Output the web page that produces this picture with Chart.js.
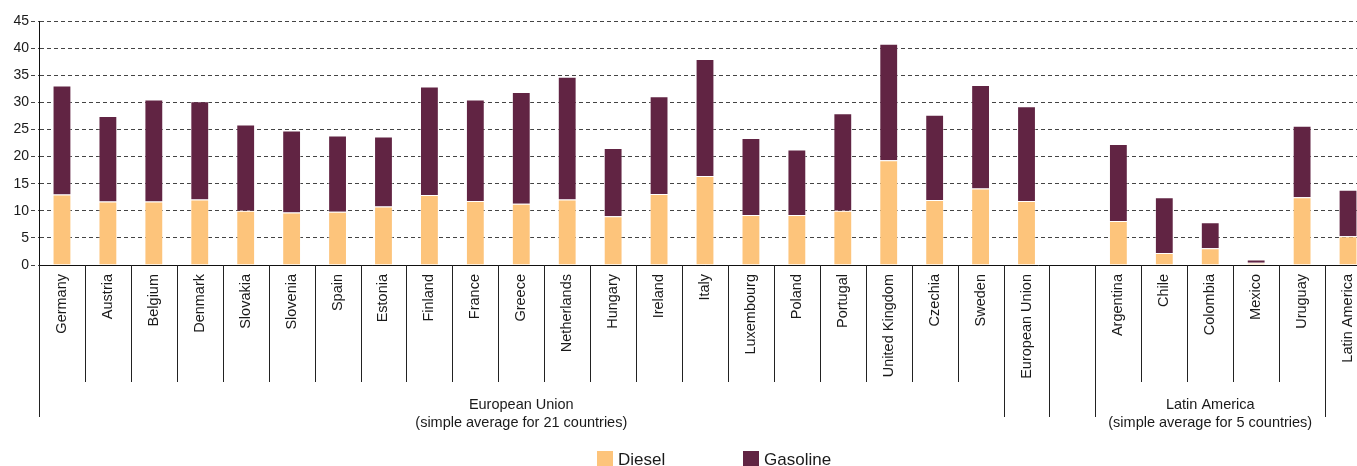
<!DOCTYPE html>
<html>
<head>
<meta charset="utf-8">
<title>Fuel taxes - diesel and gasoline</title>
<script src="https://cdn.jsdelivr.net/npm/chart.js@4.4.1/dist/chart.umd.min.js"></script>
<style>
  html, body { margin: 0; padding: 0; background: #fff; overflow: hidden; }
  #wrap { width: 1371px; height: 466px; }
</style>
</head>
<body>
<div id="wrap"><canvas id="chart" width="1371" height="466"></canvas></div>
<script>
// categories along the x axis ("" = blank gap between the two groups)
var categories = ["Germany","Austria","Belgium","Denmark","Slovakia","Slovenia","Spain","Estonia",
  "Finland","France","Greece","Netherlands","Hungary","Ireland","Italy","Luxembourg","Poland",
  "Portugal","United Kingdom","Czechia","Sweden","European Union","","Argentina","Chile",
  "Colombia","Mexico","Uruguay","Latin America"];

var diesel = [13.0,11.7,11.7,12.1,10.0,9.7,9.8,10.8,12.9,11.8,11.3,12.1,9.0,13.1,16.4,9.2,9.2,
  10.0,19.3,12.0,14.1,11.8,null,8.1,2.2,3.1,0.4,12.5,5.3];
var gasoline = [20.1,15.8,18.8,18.1,15.9,15.1,14.1,12.9,20.0,18.7,20.6,22.6,12.6,18.0,21.6,14.2,12.1,
  18.0,21.5,15.7,19.1,17.5,null,14.2,10.3,4.8,0.6,13.2,8.6];

var yTicks = [0,5,10,15,20,25,30,35,40,45];

// group captions under the category labels
var groupLines = [["European Union","(simple average for 21 countries)"],
                  ["Latin America","(simple average for 5 countries)"]];
var groupFrom = [0, 23];
var groupTo = [20, 27];
// category boundaries whose separator runs down to the group row
var longBounds = [0, 21, 22, 23, 28];

var FONT = "'Liberation Sans', Arial, sans-serif";
var C_DIESEL = "#fdc47b";
var C_GAS = "#612443";

var extras = {
  id: "extras",
  afterDraw: function(chart){
    var ctx = chart.ctx;
    var xs = chart.scales.x;
    var base = chart.chartArea.bottom;
    var step = xs.getPixelForValue(1) - xs.getPixelForValue(0);
    ctx.save();
    ctx.strokeStyle = "#222";
    ctx.lineWidth = 1;
    // separators between the category cells
    for (var k = 0; k <= categories.length; k++) {
      var x = Math.round(xs.getPixelForValue(0) - step/2 + k*step) + 0.5;
      var bottom = longBounds.indexOf(k) >= 0 ? 417 : 382;
      ctx.beginPath();
      ctx.moveTo(x, base);
      ctx.lineTo(x, bottom);
      ctx.stroke();
    }
    // group captions
    ctx.fillStyle = "#1a1a1a";
    ctx.font = "14.5px " + FONT;
    ctx.textAlign = "center";
    ctx.textBaseline = "middle";
    for (var g = 0; g < groupLines.length; g++) {
      var cx = (xs.getPixelForValue(groupFrom[g]) + xs.getPixelForValue(groupTo[g])) / 2;
      ctx.fillText(groupLines[g][0], cx, 405);
      ctx.fillText(groupLines[g][1], cx, 423);
    }
    // legend
    var items = [[chart.data.datasets[0], 597], [chart.data.datasets[1], 743]];
    ctx.font = "17px " + FONT;
    ctx.textAlign = "left";
    ctx.textBaseline = "alphabetic";
    items.forEach(function(it){
      ctx.fillStyle = it[0].backgroundColor;
      ctx.fillRect(it[1], 451, 16, 16);
      ctx.fillStyle = "#1a1a1a";
      ctx.fillText(it[0].label, it[1] + 21, 465);
    });
    ctx.restore();
  }
};

new Chart(document.getElementById("chart"), {
  type: "bar",
  data: {
    labels: categories,
    datasets: [
      { label: "Diesel", data: diesel, backgroundColor: C_DIESEL,
        borderColor: "rgba(255,255,255,0.45)", borderWidth: 1 },
      { label: "Gasoline", data: gasoline, backgroundColor: C_GAS,
        borderColor: "rgba(255,255,255,0.45)", borderWidth: 1 }
    ]
  },
  options: {
    responsive: false,
    animation: false,
    layout: { padding: { top: 21, left: 0, right: 0, bottom: 0 } },
    datasets: { bar: { categoryPercentage: 1, barPercentage: 0.41 } },
    plugins: { legend: { display: false }, tooltip: { enabled: false } },
    scales: {
      x: {
        stacked: true,
        grid: { display: false },
        border: { display: true, color: "#111", width: 1 },
        ticks: {
          autoSkip: false, maxRotation: 90, minRotation: 90, padding: 1,
          color: "#1a1a1a", font: { family: FONT, size: 14.5 }
        },
        afterFit: function(s){ s.height = 201; }
      },
      y: {
        stacked: true,
        min: 0, max: 45,
        afterBuildTicks: function(s){ s.ticks = yTicks.map(function(v){ return { value: v }; }); },
        grid: { color: "#444", lineWidth: 1, tickLength: 8, tickColor: "#444", tickBorderDash: [4, 3] },
        border: { display: true, color: "#111", width: 1, dash: [4, 3] },
        ticks: { padding: 2, color: "#1a1a1a", font: { family: FONT, size: 14 } },
        afterFit: function(s){ s.width = 39; }
      }
    }
  },
  plugins: [extras]
});
</script>
</body>
</html>
